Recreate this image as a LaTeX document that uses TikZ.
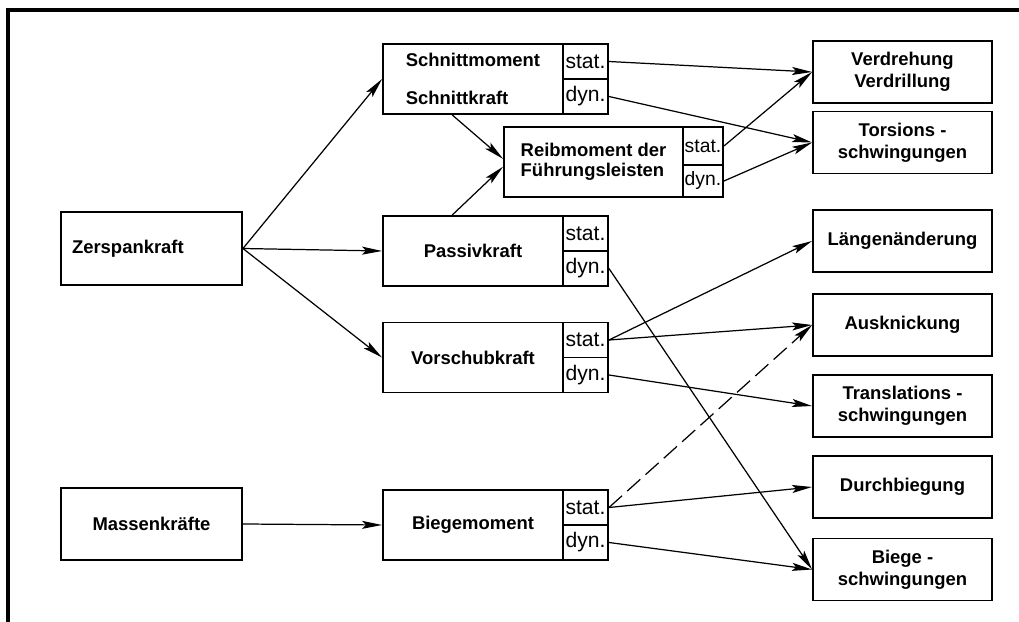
\documentclass[tikz,border=0pt]{standalone}
\usepackage{fontspec}
\setmainfont{Liberation Sans}
\usetikzlibrary{arrows.meta}

\begin{document}
\begin{tikzpicture}[x=0.02cm,y=-0.02cm,
    box/.style={draw,line width=1.1pt,minimum width=3.58cm,minimum height=1.24cm,align=center,font=\fontsize{10.5}{12.5}\selectfont\bfseries},
    lbox/.style={draw,line width=1.1pt,minimum width=3.6cm,minimum height=1.4cm,align=center,font=\fontsize{10.5}{12.5}\selectfont\bfseries},
    cell/.style={draw,line width=1.1pt,minimum width=0.9cm,minimum height=0.7cm,inner sep=1pt,font=\fontsize{12}{13}\selectfont},
    arr/.style={-{Stealth[length=4mm,width=1.6mm,inset=0.8mm]},line width=0.7pt}]
  \useasboundingbox (0,0) rectangle (1019,622);
  \draw[line width=1.8pt] (8,622) -- (8,10) -- (1019,10);

  \node[lbox,minimum width=3.62cm,minimum height=1.46cm,text width=3.18cm,align=left,inner xsep=0.22cm] (zer) at (151.5,248.5) {Zerspankraft};
  \node[lbox,minimum width=3.62cm,minimum height=1.44cm] (mass) at (151.5,524) {Massenkräfte};

  \node[lbox,align=left] (sm) at (473,79) {Schnittmoment\\[9pt]Schnittkraft};
  \node[cell] (sm-stat) at (585.5,61.5) {stat.};
  \node[cell] (sm-dyn) at (585.5,96.5) {dyn.};

  \node[lbox,minimum width=3.58cm,align=left,font=\fontsize{10.5}{11.5}\selectfont\bfseries] (reib) at (593.5,162) {Reibmoment der\\Führungsleisten};
  \node[cell,minimum width=0.8cm,minimum height=0.76cm,font=\fontsize{11}{12}\selectfont] (reib-stat) at (703,146) {stat.};
  \node[cell,minimum width=0.8cm,minimum height=0.64cm,font=\fontsize{11}{12}\selectfont] (reib-dyn) at (703,181) {dyn.};

  \node[lbox] (pk) at (473,251) {Passivkraft};
  \node[cell] (pk-stat) at (585.5,233.5) {stat.};
  \node[cell] (pk-dyn) at (585.5,268.5) {dyn.};

  \node[lbox] (vk) at (473,357.5) {Vorschubkraft};
  \node[cell] (vk-stat) at (585.5,340) {stat.};
  \node[cell] (vk-dyn) at (585.5,375) {dyn.};

  \node[lbox] (bm) at (473,525) {Biegemoment};
  \node[cell] (bm-stat) at (585.5,507.5) {stat.};
  \node[cell] (bm-dyn) at (585.5,542.5) {dyn.};

  \node[box] (verd) at (902.5,72) {Verdrehung\\Verdrillung};
  \node[box] (tors) at (902.5,142.5) {Torsions -\\schwingungen};
  \node[box] (laeng) at (902.5,241) {Längenänderung};
  \node[box] (ausk) at (902.5,325) {Ausknickung};
  \node[box] (transl) at (902.5,406) {Translations -\\schwingungen};
  \node[box] (durch) at (902.5,487) {Durchbiegung};
  \node[box] (bsch) at (902.5,569.5) {Biege -\\schwingungen};

  \draw[arr] (zer.east) -- (sm.west);
  \draw[arr] (zer.east) -- (pk.west);
  \draw[arr] (zer.east) -- (vk.west);
  \draw[arr] (mass.east) -- (bm.west);
  \draw[arr] (sm.-120) -- (reib.178);
  \draw[arr] (pk.120) -- (reib.183);
  \draw[arr] (sm-stat.east) -- (verd.west);
  \draw[arr] (sm-dyn.east) -- (tors.west);
  \draw[arr] (reib-stat.east) -- (verd.west);
  \draw[arr] (reib-dyn.east) -- (tors.west);
  \draw[arr] (pk-dyn.east) -- (bsch.west);
  \draw[arr] (vk-stat.east) -- (laeng.west);
  \draw[arr] (vk-stat.east) -- (ausk.west);
  \draw[arr] (vk-dyn.east) -- (transl.west);
  \draw[arr,dash pattern=on 10pt off 4pt] (bm-stat.east) -- (ausk.west);
  \draw[arr] (bm-stat.east) -- (durch.west);
  \draw[arr] (bm-dyn.east) -- (bsch.west);
\end{tikzpicture}
\end{document}
